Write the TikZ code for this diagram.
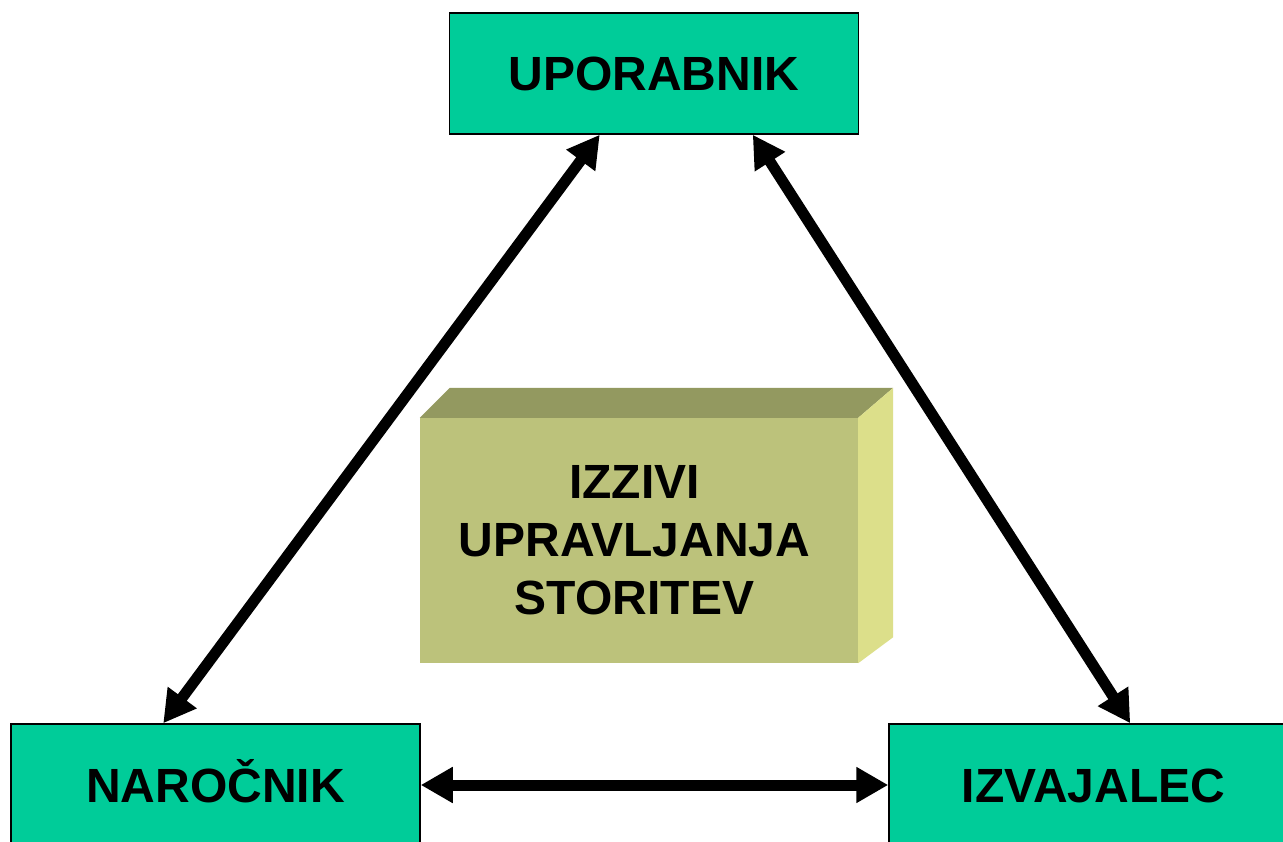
\documentclass[tikz,border=0pt]{standalone}
\usepackage{fontspec}
\setmainfont{Liberation Sans}
\usetikzlibrary{arrows.meta,calc}
\definecolor{teal}{RGB}{0,204,153}
\definecolor{frontcol}{RGB}{188,194,123}
\definecolor{topcol}{RGB}{147,153,96}
\definecolor{sidecol}{RGB}{220,223,138}
\begin{document}
\begin{tikzpicture}[x=1pt,y=-1pt,
  actor/.style={draw=black,line width=1.5pt,fill=teal,inner sep=0pt,
    text height=35pt,text depth=0pt,
    font=\fontsize{48}{57}\selectfont\bfseries},
  link/.style={line width=11pt,{Triangle[length=32pt,width=34pt]}-{Triangle[length=32pt,width=34pt]}}]
\useasboundingbox (0,0) rectangle (1283,842);
\clip (0,0) rectangle (1283,842);
\fill[white] (0,0) rectangle (1283,842);
% actors
\node[actor,minimum width=409,minimum height=121] (upo) at (654,73.5) {UPORABNIK};
\node[actor,minimum width=409,minimum height=122] (nar) at (215.5,785) {NAROČNIK};
\node[actor,minimum width=409,minimum height=122] (izv) at (1093.5,785) {IZVAJALEC};
% 3D box
\node[fill=frontcol,inner sep=0pt,minimum width=438,minimum height=245,
  text width=438pt,align=center,
  font=\fontsize{48}{58}\selectfont\bfseries] (box) at (639,540.5)
  {\hspace*{-9pt}IZZIVI\\\hspace*{-9pt}UPRAVLJANJA\\\hspace*{-9pt}STORITEV};
\fill[topcol] (box.north west) -- ++(30,-30) -- ($(box.north east)+(35,-30)$) -- (box.north east) -- cycle;
\fill[sidecol] (box.north east) -- ++(35,-30) -- ($(box.south east)+(35,-26)$) -- (box.south east) -- cycle;
% connectors
\coordinate (upoL) at ([xshift=151pt]upo.south west);
\coordinate (upoR) at ([xshift=304pt]upo.south west);
\coordinate (narT) at ([xshift=153pt]nar.north west);
\coordinate (izvT) at ([xshift=242pt]izv.north west);
\draw[link] (narT) -- (upoL);
\draw[link] (upoR) -- (izvT);
\draw[link] (nar.east) -- (izv.west);
\end{tikzpicture}
\end{document}
